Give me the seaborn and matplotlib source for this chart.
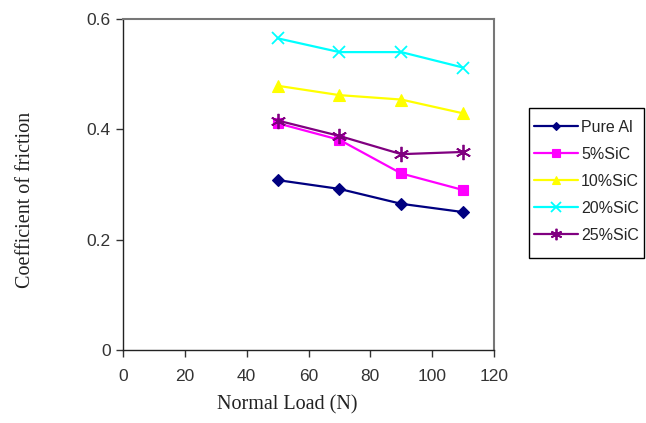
import matplotlib
matplotlib.use("Agg")
import matplotlib.pyplot as plt
from matplotlib.patches import Rectangle
import seaborn as sns
import pandas as pd

loads = [50, 70, 90, 110]
series_names = ["Pure Al", "5%SiC", "10%SiC", "20%SiC", "25%SiC"]
pure_al = [0.308, 0.292, 0.265, 0.250]
sic5 = [0.411, 0.381, 0.320, 0.290]
sic10 = [0.479, 0.462, 0.454, 0.429]
sic20 = [0.565, 0.540, 0.540, 0.512]
sic25 = [0.416, 0.388, 0.355, 0.359]
x_ticks = [0, 20, 40, 60, 80, 100, 120]
y_ticks = [0, 0.2, 0.4, 0.6]

values = [pure_al, sic5, sic10, sic20, sic25]
rows = []
for name, vals in zip(series_names, values):
    for x, v in zip(loads, vals):
        rows.append({"Load": x, "COF": v, "Series": name})
df = pd.DataFrame(rows)

sns.set_style("white")
plt.rcParams['font.family'] = ['Liberation Sans', 'DejaVu Sans']

colors = {"Pure Al": "#000080", "5%SiC": "#FF00FF", "10%SiC": "#FFFF00",
          "20%SiC": "#00FFFF", "25%SiC": "#800080"}
markers = {"Pure Al": "D", "5%SiC": "s", "10%SiC": "^", "20%SiC": "x", "25%SiC": (6, 2, 0)}
sizes_m = {"Pure Al": 6, "5%SiC": 7, "10%SiC": 8, "20%SiC": 9, "25%SiC": 11}

W, H = 646, 423
fig = plt.figure(figsize=(W / 100, H / 100), dpi=100)
ax = fig.add_axes([123/W, 73/H, (494-123)/W, (350-19)/H])

for name in series_names:
    sub = df[df["Series"] == name]
    sns.lineplot(data=sub, x="Load", y="COF", color=colors[name], marker=markers[name],
                 markersize=sizes_m[name], markeredgecolor=colors[name],
                 markeredgewidth=1.3 if name in ("20%SiC", "25%SiC") else 0.8,
                 linewidth=1.6, label=name, ax=ax)

ax.set_xlim(0, 120)
ax.set_ylim(0, 0.6)
ax.set_xticks(x_ticks)
ax.set_xticklabels([str(t) for t in x_ticks])
ax.set_yticks(y_ticks)
ax.set_yticklabels(["0", "0.2", "0.4", "0.6"])
ax.tick_params(axis='both', direction='out', length=5, width=1, colors='#333333',
               labelsize=12.5, labelcolor='#333333', bottom=True, left=True)
ax.tick_params(axis='x', pad=9)
ax.tick_params(axis='y', pad=4)
for s in ["left", "bottom"]:
    ax.spines[s].set_color('#222222')
    ax.spines[s].set_linewidth(1)
for s in ["top", "right"]:
    ax.spines[s].set_color('#777777')
    ax.spines[s].set_linewidth(1.5)

ax.set_xlabel("Normal Load (N)", family=['Liberation Serif'], fontsize=14.5, color='#222222')
ax.set_ylabel("Coefficient of friction", family=['Liberation Serif'], fontsize=14.5, color='#222222')
ax.xaxis.set_label_coords((287 - 123) / 371, (350 - 395) / 331)
ax.yaxis.set_label_coords((35 - 123) / 371, (350 - 200) / 331)

leg = ax.legend(loc='upper left', bbox_to_anchor=(534/W, 1 - 120/H), bbox_transform=fig.transFigure,
                frameon=False, fontsize=11.5,
                handlelength=2.75, handletextpad=0.2, labelspacing=0.75, borderpad=0,
                borderaxespad=0, markerscale=0.75)
fig.patches.append(Rectangle((529/W, 1 - 258/H), (644-529)/W, (258-108)/H,
                             transform=fig.transFigure, fill=False, edgecolor='black',
                             linewidth=1, figure=fig))

fig.savefig("out.png", dpi=100)
